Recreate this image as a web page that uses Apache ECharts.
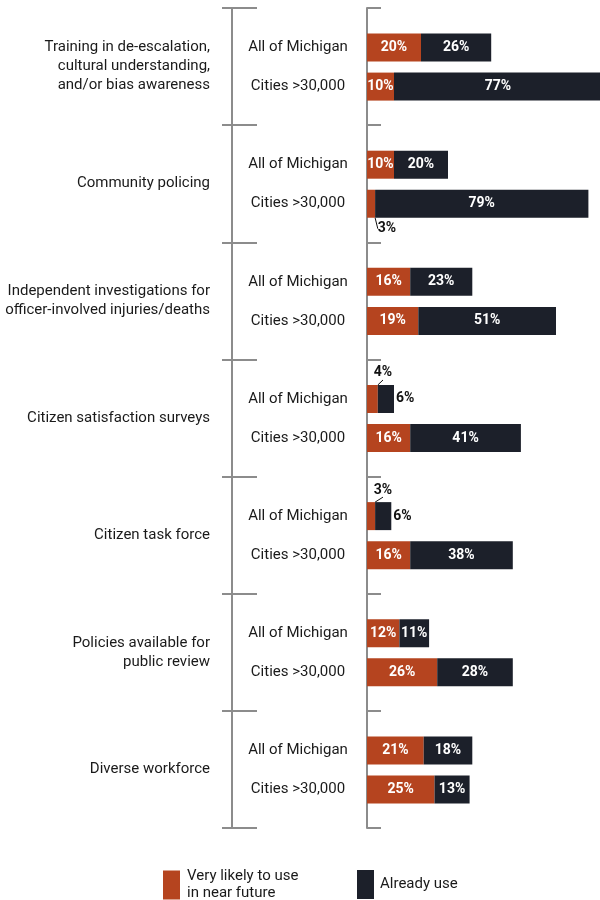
<!DOCTYPE html>
<html>
<head>
<meta charset="utf-8">
<script src="https://cdn.jsdelivr.net/npm/echarts@6/dist/echarts.min.js"></script>
<style>
  html, body { margin: 0; padding: 0; background: #fff; }
  #chart { width: 600px; height: 900px; }
</style>
</head>
<body>
<div id="chart"></div>
<script>
// Practices, each compared for all of Michigan and for cities above 30,000 residents
const groups = [
  'Training in de-escalation,\ncultural understanding,\nand/or bias awareness',
  'Community policing',
  'Independent investigations for\nofficer-involved injuries/deaths',
  'Citizen satisfaction surveys',
  'Citizen task force',
  'Policies available for\npublic review',
  'Diverse workforce'
];
const scopes = ['All of Michigan', 'Cities >30,000'];

// Percent of respondents, in the order of groups
const likelyMichigan  = [20, 10, 16, 4, 3, 12, 21];
const likelyCities    = [10, 3, 19, 16, 16, 26, 25];
const alreadyMichigan = [26, 20, 23, 6, 6, 11, 18];
const alreadyCities   = [77, 79, 51, 41, 38, 28, 13];

const seriesNames = ['Very likely to use in near future', 'Already use'];

const ORANGE = '#b5441f';
const DARK = '#1c202a';
const GRAY = '#8c8c8c';
const FONT = "Roboto, 'DejaVu Sans Condensed', sans-serif";

// Rows: a spacer at each group boundary, then the two scopes
const rows = [];
groups.forEach(() => { rows.push('', scopes[0], scopes[1]); });
rows.push('');

function buildRows(mich, cities) {
  const out = [];
  groups.forEach((g, i) => { out.push('-', mich[i], cities[i]); });
  out.push('-');
  return out;
}
const likelyRows = buildRows(likelyMichigan, likelyCities);
const alreadyRows = buildRows(alreadyMichigan, alreadyCities);

const SMALL = 5;   // segments too narrow for an inside label
const SMALL_DARK = 8;

const likelyData = likelyRows.map((v, idx) => {
  if (v === '-' || v >= SMALL) return v;
  const below = (idx % 3 === 2); // second row of a group: label under the bar
  return {
    value: v,
    label: { position: below ? 'bottom' : 'top', color: '#111' },
    labelLine: { show: true, lineStyle: { color: '#111', width: 1 } },
    _below: below
  };
});
const alreadyData = alreadyRows.map(v => {
  if (v === '-' || v >= SMALL_DARK) return v;
  return { value: v, label: { position: 'right', distance: 2, color: '#111' } };
});

const rowCount = rows.length;          // 22
const axisTop = 8, axisHeight = 820;
const rowH = axisHeight / (rowCount - 1);

const chart = echarts.init(document.getElementById('chart'), null, { renderer: 'canvas' });

const valueLabel = {
  show: true,
  position: 'inside',
  color: '#fff',
  fontFamily: FONT,
  fontWeight: 'bold',
  fontSize: 14,
  formatter: p => p.value + '%'
};

const gridBase = { outerBoundsMode: 'none', containLabel: false };

chart.setOption({
  animation: false,
  backgroundColor: '#fff',
  textStyle: { fontFamily: FONT },
  grid: [
    // bars
    Object.assign({ left: 367, right: -37, top: axisTop - rowH / 2 + 0.5, height: rowH * rowCount }, gridBase),
    // bracket + main axis
    Object.assign({ left: 232, width: 135, top: axisTop, height: axisHeight }, gridBase),
    Object.assign({ left: 232, width: 135, top: axisTop, height: axisHeight }, gridBase)
  ],
  xAxis: [
    { gridIndex: 0, type: 'value', min: 0, max: 100, show: false },
    { gridIndex: 1, type: 'value', show: false },
    { gridIndex: 2, type: 'value', show: false }
  ],
  yAxis: [
    {
      gridIndex: 0, type: 'category', data: rows, inverse: true,
      axisLine: { show: false }, axisTick: { show: false },
      axisLabel: { interval: 0, align: 'center', margin: 69, fontSize: 15, color: '#1a1a1a', fontFamily: FONT }
    },
    {
      gridIndex: 1, type: 'category', data: groups, inverse: true, position: 'left',
      axisLine: { show: true, lineStyle: { color: GRAY, width: 2 } },
      axisTick: { show: true, inside: true, length: 25, lineStyle: { color: GRAY, width: 2 } },
      axisLabel: { interval: 0, align: 'right', margin: 22, fontSize: 15, lineHeight: 19, color: '#1a1a1a', fontFamily: FONT }
    },
    {
      gridIndex: 1, type: 'category', data: groups, inverse: true, position: 'right',
      axisLine: { show: true, lineStyle: { color: GRAY, width: 2 } },
      axisTick: { show: true, inside: false, length: 14, lineStyle: { color: GRAY, width: 2 } },
      axisLabel: { show: false }
    },
    {
      gridIndex: 2, type: 'category', data: groups, inverse: true, position: 'right',
      axisLine: { show: false },
      axisTick: { show: true, inside: true, length: 10, lineStyle: { color: GRAY, width: 2 } },
      axisLabel: { show: false }
    }
  ],
  legend: [
    {
      left: 163, top: 868, padding: 0, itemWidth: 17, itemHeight: 29, icon: 'rect',
      data: [seriesNames[0]],
      formatter: () => 'Very likely to use\nin near future',
      textStyle: { fontSize: 15, lineHeight: 17, color: '#1a1a1a', fontFamily: FONT, padding: [0, 0, 0, 2] }
    },
    {
      left: 357, top: 870, padding: 0, itemWidth: 17, itemHeight: 29, icon: 'rect',
      data: [seriesNames[1]],
      textStyle: { fontSize: 15, color: '#1a1a1a', fontFamily: FONT, padding: [0, 0, 0, 1] }
    }
  ],
  series: [
    {
      name: seriesNames[0], type: 'bar', stack: 'total', xAxisIndex: 0, yAxisIndex: 0,
      barWidth: 28, itemStyle: { color: ORANGE },
      label: valueLabel,
      labelLine: { show: false },
      data: likelyData,
      labelLayout: function (p) {
        const item = likelyData[p.dataIndex];
        if (typeof item !== 'object') return {};
        const r = p.rect;
        if (item._below) {
          const b = r.y + r.height;
          return {
            x: r.x + 20, y: b + 11, align: 'center', verticalAlign: 'middle',
            labelLinePoints: [[r.x + 4, b - 10], [r.x + 9, b + 5]]
          };
        }
        return {
          x: r.x + 16, y: r.y - 12, align: 'center', verticalAlign: 'middle',
          labelLinePoints: [[r.x + 3.5, r.y + 6], [r.x + 8, r.y - 3]]
        };
      }
    },
    {
      name: seriesNames[1], type: 'bar', stack: 'total', xAxisIndex: 0, yAxisIndex: 0,
      barWidth: 28, itemStyle: { color: DARK },
      label: valueLabel,
      data: alreadyData
    }
  ]
});
</script>
</body>
</html>
